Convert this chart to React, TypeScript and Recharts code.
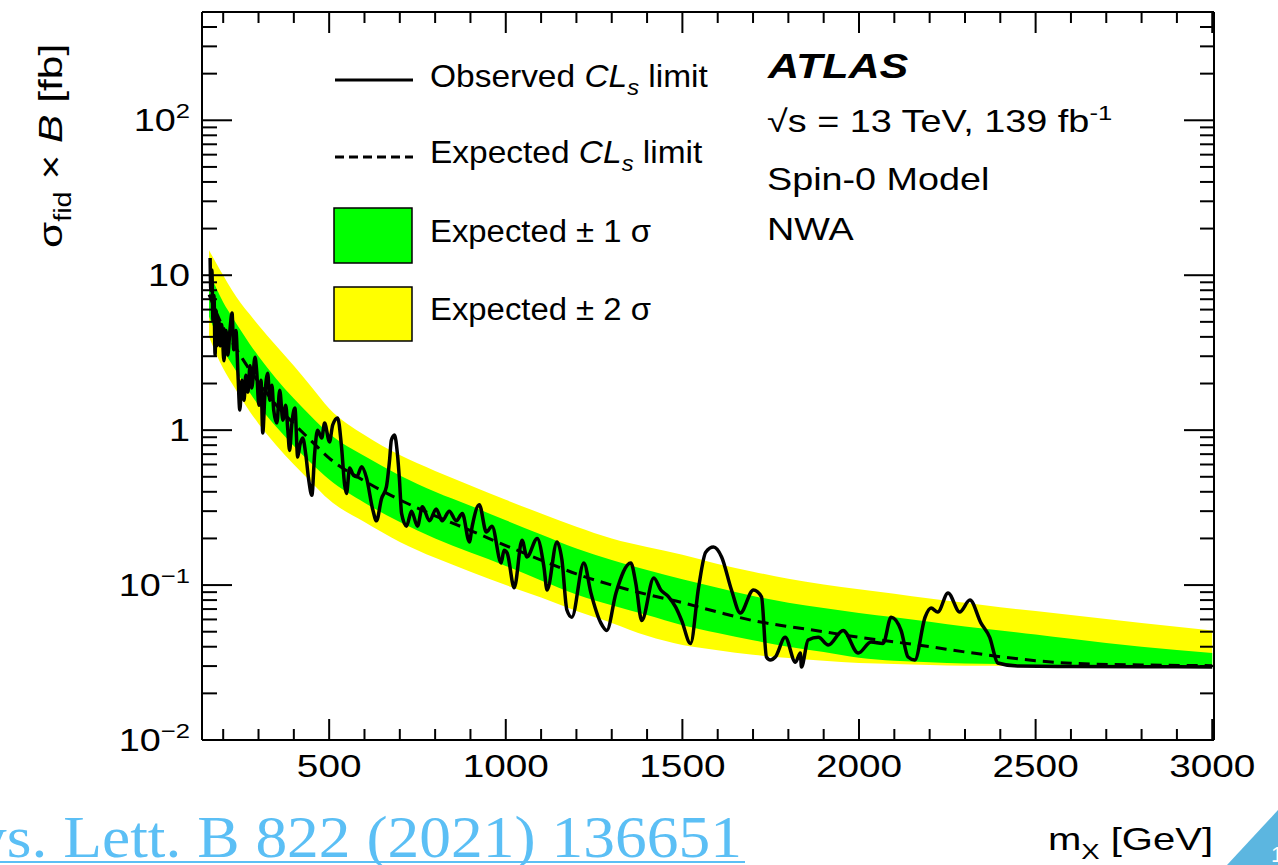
import React from 'react';
import { ComposedChart, Area, Line, XAxis, YAxis, Legend } from 'recharts';

// expected CLs limit and its bands [fb]
const bandMass = [160, 180, 200, 225, 250, 275, 300, 350, 400, 450, 500, 600, 700, 800, 900, 1000, 1100, 1200, 1300, 1400, 1500, 1600, 1700, 1800, 1900, 2000, 2100, 2200, 2300, 2400, 2500, 2600, 2800, 3000];
const expected = [7.5, 5.8, 4.6, 3.7, 3.0, 2.45, 2.05, 1.45, 1.1, 0.85, 0.66, 0.47, 0.355, 0.28, 0.225, 0.18, 0.145, 0.118, 0.1, 0.087, 0.077, 0.067, 0.059, 0.054, 0.05, 0.046, 0.043, 0.04, 0.037, 0.0345, 0.0325, 0.0313, 0.0305, 0.0302];
const plus2 = [14.5, 12, 10, 8.0, 6.6, 5.6, 4.75, 3.5, 2.6, 1.9, 1.38, 0.93, 0.69, 0.545, 0.44, 0.355, 0.29, 0.238, 0.2, 0.176, 0.157, 0.137, 0.122, 0.11, 0.101, 0.094, 0.088, 0.082, 0.077, 0.072, 0.068, 0.064, 0.057, 0.051];
const plus1 = [10.5, 8.3, 6.7, 5.4, 4.4, 3.6, 3.0, 2.15, 1.6, 1.22, 0.95, 0.68, 0.51, 0.4, 0.325, 0.262, 0.212, 0.172, 0.145, 0.125, 0.109, 0.096, 0.085, 0.077, 0.071, 0.066, 0.062, 0.058, 0.054, 0.051, 0.048, 0.045, 0.04, 0.0364];
const minus1 = [5.4, 4.2, 3.3, 2.65, 2.15, 1.75, 1.45, 1.05, 0.79, 0.61, 0.48, 0.34, 0.255, 0.2, 0.162, 0.133, 0.107, 0.087, 0.074, 0.064, 0.055, 0.049, 0.044, 0.04, 0.037, 0.034, 0.0325, 0.0318, 0.0312, 0.031, 0.0302, 0.03, 0.0298, 0.0297];
const minus2 = [4.0, 3.1, 2.5, 2.0, 1.62, 1.32, 1.1, 0.8, 0.6, 0.46, 0.355, 0.255, 0.19, 0.15, 0.122, 0.1, 0.083, 0.068, 0.057, 0.047, 0.041, 0.038, 0.0355, 0.0338, 0.0325, 0.0314, 0.031, 0.0305, 0.0302, 0.0302, 0.03, 0.0298, 0.0297, 0.0296];

// observed CLs limit [fb]
const obsMass = [163, 165, 168, 171, 174, 177, 180, 182, 188, 191, 196, 202, 208, 213, 219, 225, 230, 236, 242, 247, 253, 259, 264, 270, 276, 281, 290, 295, 301, 307, 312, 318, 326, 332, 338, 343, 352, 360, 369, 377, 383, 388, 394, 403, 411, 417, 425, 434, 442, 451, 459, 467, 479, 487, 501, 510, 524, 535, 544, 549, 558, 569, 578, 592, 606, 623, 634, 648, 662, 671, 676, 685, 693, 699, 705, 719, 733, 750, 764, 784, 803, 820, 840, 860, 877, 897, 905, 925, 945, 961, 987, 995, 1004, 1024, 1046, 1060, 1089, 1108, 1117, 1145, 1159, 1173, 1187, 1221, 1241, 1269, 1286, 1312, 1354, 1368, 1385, 1419, 1439, 1461, 1481, 1498, 1523, 1546, 1566, 1588, 1611, 1639, 1664, 1701, 1724, 1738, 1749, 1763, 1791, 1820, 1834, 1837, 1856, 1885, 1913, 1955, 1998, 2034, 2068, 2091, 2119, 2139, 2158, 2187, 2204, 2223, 2252, 2285, 2314, 2345, 2370, 2393, 2449, 2600, 2800, 3000];
const obsLimit = [12.9, 8.0, 10.8, 5.1, 7.4, 3.05, 5.9, 3.5, 5.1, 3.5, 4.8, 2.8, 4.4, 3.05, 4.4, 5.7, 3.3, 4.4, 2.26, 1.35, 2.1, 1.56, 2.26, 1.76, 2.6, 1.87, 2.96, 2.37, 1.45, 2.1, 0.96, 1.68, 2.33, 1.56, 1.95, 1.35, 1.11, 1.81, 1.16, 1.45, 1.0, 0.74, 1.08, 1.39, 0.67, 0.8, 0.89, 0.69, 0.48, 0.38, 0.71, 1.0, 0.89, 1.11, 0.84, 1.08, 1.2, 0.78, 0.44, 0.39, 0.57, 0.51, 0.5, 0.58, 0.49, 0.31, 0.26, 0.36, 0.43, 0.64, 0.86, 0.93, 0.71, 0.48, 0.29, 0.24, 0.3, 0.24, 0.32, 0.26, 0.31, 0.26, 0.3, 0.26, 0.29, 0.19, 0.24, 0.33, 0.22, 0.24, 0.139, 0.168, 0.161, 0.096, 0.195, 0.152, 0.2, 0.131, 0.093, 0.19, 0.145, 0.069, 0.062, 0.139, 0.089, 0.057, 0.051, 0.089, 0.139, 0.103, 0.059, 0.111, 0.093, 0.084, 0.072, 0.059, 0.042, 0.097, 0.163, 0.176, 0.152, 0.093, 0.066, 0.093, 0.084, 0.0343, 0.0328, 0.0343, 0.046, 0.0318, 0.0364, 0.0296, 0.0442, 0.046, 0.041, 0.051, 0.0364, 0.0429, 0.042, 0.062, 0.051, 0.0343, 0.0328, 0.062, 0.071, 0.067, 0.089, 0.067, 0.08, 0.057, 0.046, 0.0314, 0.03, 0.0298, 0.0297, 0.0296];

// axis ticks
const xMajor = [500, 1000, 1500, 2000, 2500, 3000];
const xMinor = [200, 300, 400, 600, 700, 800, 900, 1100, 1200, 1300, 1400, 1600, 1700, 1800, 1900, 2100, 2200, 2300, 2400, 2600, 2700, 2800, 2900];
const yMajor = [0.01, 0.1, 1, 10, 100];
const yMajorBase = ['10', '10', '1', '10', '10'];
const yMajorExp = ['\u22122', '\u22121', '', '', '2'];
const yMinorSteps = [2, 3, 4, 5, 6, 7, 8, 9];

const bandData = bandMass.map((m, i) => ({
  mass: m,
  band2: [minus2[i], plus2[i]],
  band1: [minus1[i], plus1[i]],
  expected: expected[i],
}));
const obsData = obsMass.map((m, i) => ({ mass: m, observed: obsLimit[i] }));

const xTicks = [...xMinor, ...xMajor].sort((a, b) => a - b);
const yTicks = yMajor.flatMap((d) => [d, ...yMinorSteps.map((s) => d * s)]).filter((v) => v < 500);

const FONT = "'Liberation Sans', Arial, Helvetica, sans-serif";
const axisStyle = { stroke: '#000', strokeWidth: 2 };

// text stretched horizontally like the original slide
function Stretch({ x, y, sx = 1, anchor = 'start', size = 31, rotate = 0, style = {}, children }: any) {
  return (
    <g transform={`translate(${x},${y}) rotate(${rotate}) scale(${sx},1)`}>
      <text x={0} y={0} textAnchor={anchor} fontSize={size} fontFamily={FONT} fill="#000" style={style}>
        {children}
      </text>
    </g>
  );
}

function BottomTick({ x, y, payload }: any) {
  const major = xMajor.includes(payload.value);
  return (
    <g>
      <line x1={x} y1={y} x2={x} y2={y - (major ? 21 : 11)} stroke="#000" strokeWidth={2} />
      {major && (
        <Stretch x={x} y={y + 37} sx={1.25} anchor="middle">
          {payload.value}
        </Stretch>
      )}
    </g>
  );
}

function TopTick({ x, y, payload }: any) {
  const major = xMajor.includes(payload.value);
  return <line x1={x} y1={y} x2={x} y2={y + (major ? 21 : 11)} stroke="#000" strokeWidth={2} />;
}

function LeftTick({ x, y, payload }: any) {
  const idx = yMajor.indexOf(payload.value);
  const major = idx >= 0;
  return (
    <g>
      <line x1={x} y1={y} x2={x + (major ? 30 : 15)} y2={y} stroke="#000" strokeWidth={2} />
      {major && (
        <Stretch x={190} y={y + 11} sx={1.22} anchor="end">
          {yMajorBase[idx]}
          {yMajorExp[idx] && (
            <tspan dy={-13} fontSize={21}>
              {yMajorExp[idx]}
            </tspan>
          )}
        </Stretch>
      )}
    </g>
  );
}

function RightTick({ x, y, payload }: any) {
  const major = yMajor.includes(payload.value);
  return <line x1={x} y1={y} x2={x - (major ? 30 : 14)} y2={y} stroke="#000" strokeWidth={2} />;
}

function LegendBox() {
  return (
    <svg width={420} height={300} style={{ overflow: 'visible' }}>
      <line x1={15} y1={40} x2={93} y2={40} stroke="#000" strokeWidth={3} />
      <line x1={15} y1={117} x2={93} y2={117} stroke="#000" strokeWidth={3} strokeDasharray="9 5" />
      <rect x={14} y={168} width={78} height={55} fill="#00ff00" stroke="#000" strokeWidth={1.5} />
      <rect x={14} y={247} width={78} height={54} fill="#ffff00" stroke="#000" strokeWidth={1.5} />
      <Stretch x={110} y={47} sx={1.08}>
        Observed <tspan fontStyle="italic">CL</tspan>
        <tspan fontStyle="italic" fontSize={22} dy={8}>s</tspan>
        <tspan dy={-8}> limit</tspan>
      </Stretch>
      <Stretch x={110} y={123} sx={1.08}>
        Expected <tspan fontStyle="italic">CL</tspan>
        <tspan fontStyle="italic" fontSize={22} dy={8}>s</tspan>
        <tspan dy={-8}> limit</tspan>
      </Stretch>
      <Stretch x={110} y={202} sx={1.06}>
        Expected ± 1 σ
      </Stretch>
      <Stretch x={110} y={280} sx={1.06}>
        Expected ± 2 σ
      </Stretch>
    </svg>
  );
}

export default function App() {
  return (
    <div style={{ position: 'absolute', left: 0, top: 0, width: 1278, height: 865, background: '#fff', overflow: 'hidden' }}>
      <ComposedChart width={1278} height={865} margin={{ top: 11, right: 63, bottom: 65, left: 2 }}>
        <Area data={bandData} dataKey="band2" type="monotone" fill="#ffff00" fillOpacity={1} stroke="none" isAnimationActive={false} />
        <Area data={bandData} dataKey="band1" type="monotone" fill="#00ff00" fillOpacity={1} stroke="none" isAnimationActive={false} />
        <Line data={bandData} dataKey="expected" type="monotone" stroke="#000" strokeWidth={3} strokeDasharray="11 7" dot={false} isAnimationActive={false} />
        <Line data={obsData} dataKey="observed" type="monotone" stroke="#000" strokeWidth={3.5} dot={false} isAnimationActive={false} />
        <XAxis dataKey="mass" type="number" domain={[140, 3005]} allowDataOverflow ticks={xTicks} interval={0}
          tickSize={0} tickMargin={0} tickLine={false} axisLine={axisStyle} tick={(p: any) => <BottomTick {...p} />} height={60} />
        <XAxis xAxisId="top" orientation="top" dataKey="mass" type="number" domain={[140, 3005]} allowDataOverflow ticks={xTicks} interval={0}
          tickSize={0} tickMargin={0} tickLine={false} axisLine={axisStyle} tick={(p: any) => <TopTick {...p} />} height={1} />
        <YAxis type="number" scale="log" domain={[0.01, 500]} allowDataOverflow ticks={yTicks} interval={0}
          tickSize={0} tickMargin={0} tickLine={false} axisLine={axisStyle} tick={(p: any) => <LeftTick {...p} />} width={200} />
        <YAxis yAxisId="right" orientation="right" type="number" scale="log" domain={[0.01, 500]} allowDataOverflow ticks={yTicks} interval={0}
          tickSize={0} tickMargin={0} tickLine={false} axisLine={axisStyle} tick={(p: any) => <RightTick {...p} />} width={1} />
        <Legend layout="vertical" align="center" verticalAlign="middle" content={() => <LegendBox />}
          wrapperStyle={{ left: 320, top: 40, width: 420, height: 300 }} />
      </ComposedChart>

      <svg width={1278} height={865} style={{ position: 'absolute', left: 0, top: 0, pointerEvents: 'none' }}>
        <Stretch x={768} y={78} sx={1.23} size={35} style={{ fontWeight: 'bold', fontStyle: 'italic' }}>
          ATLAS
        </Stretch>
        <Stretch x={767} y={132} sx={1.22}>
          √s = 13 TeV, 139 fb<tspan dy={-12} fontSize={21}>-1</tspan>
        </Stretch>
        <Stretch x={767} y={190} sx={1.18} size={32}>
          Spin-0 Model
        </Stretch>
        <Stretch x={767} y={240} sx={1.18} size={32}>
          NWA
        </Stretch>

        <Stretch x={1213} y={850} sx={1.25} size={32} anchor="end">
          m<tspan dy={9} fontSize={22}>X</tspan>
          <tspan dy={-9}> [GeV]</tspan>
        </Stretch>
        <Stretch x={62} y={248} rotate={-90} sx={1.25} size={34}>
          σ<tspan dy={9} fontSize={23}>fid</tspan>
          <tspan dy={-9}> × </tspan>
          <tspan fontStyle="italic">B</tspan> [fb]
        </Stretch>

        <text x={-92} y={857} fontFamily="'Liberation Serif', 'Times New Roman', serif" fontSize={60} fill="#5bbff5"
          textLength={834} lengthAdjust="spacingAndGlyphs">
          Phys. Lett. B 822 (2021) 136651
        </text>
        <line x1={0} y1={862} x2={745} y2={862} stroke="#5bbff5" strokeWidth={2} />
        <polygon points="1227,865 1278,810 1278,865" fill="#5cb6e0" />
        <text x={1271} y={862} fontFamily={FONT} fontSize={22} fill="#fff">1</text>
      </svg>
    </div>
  );
}
